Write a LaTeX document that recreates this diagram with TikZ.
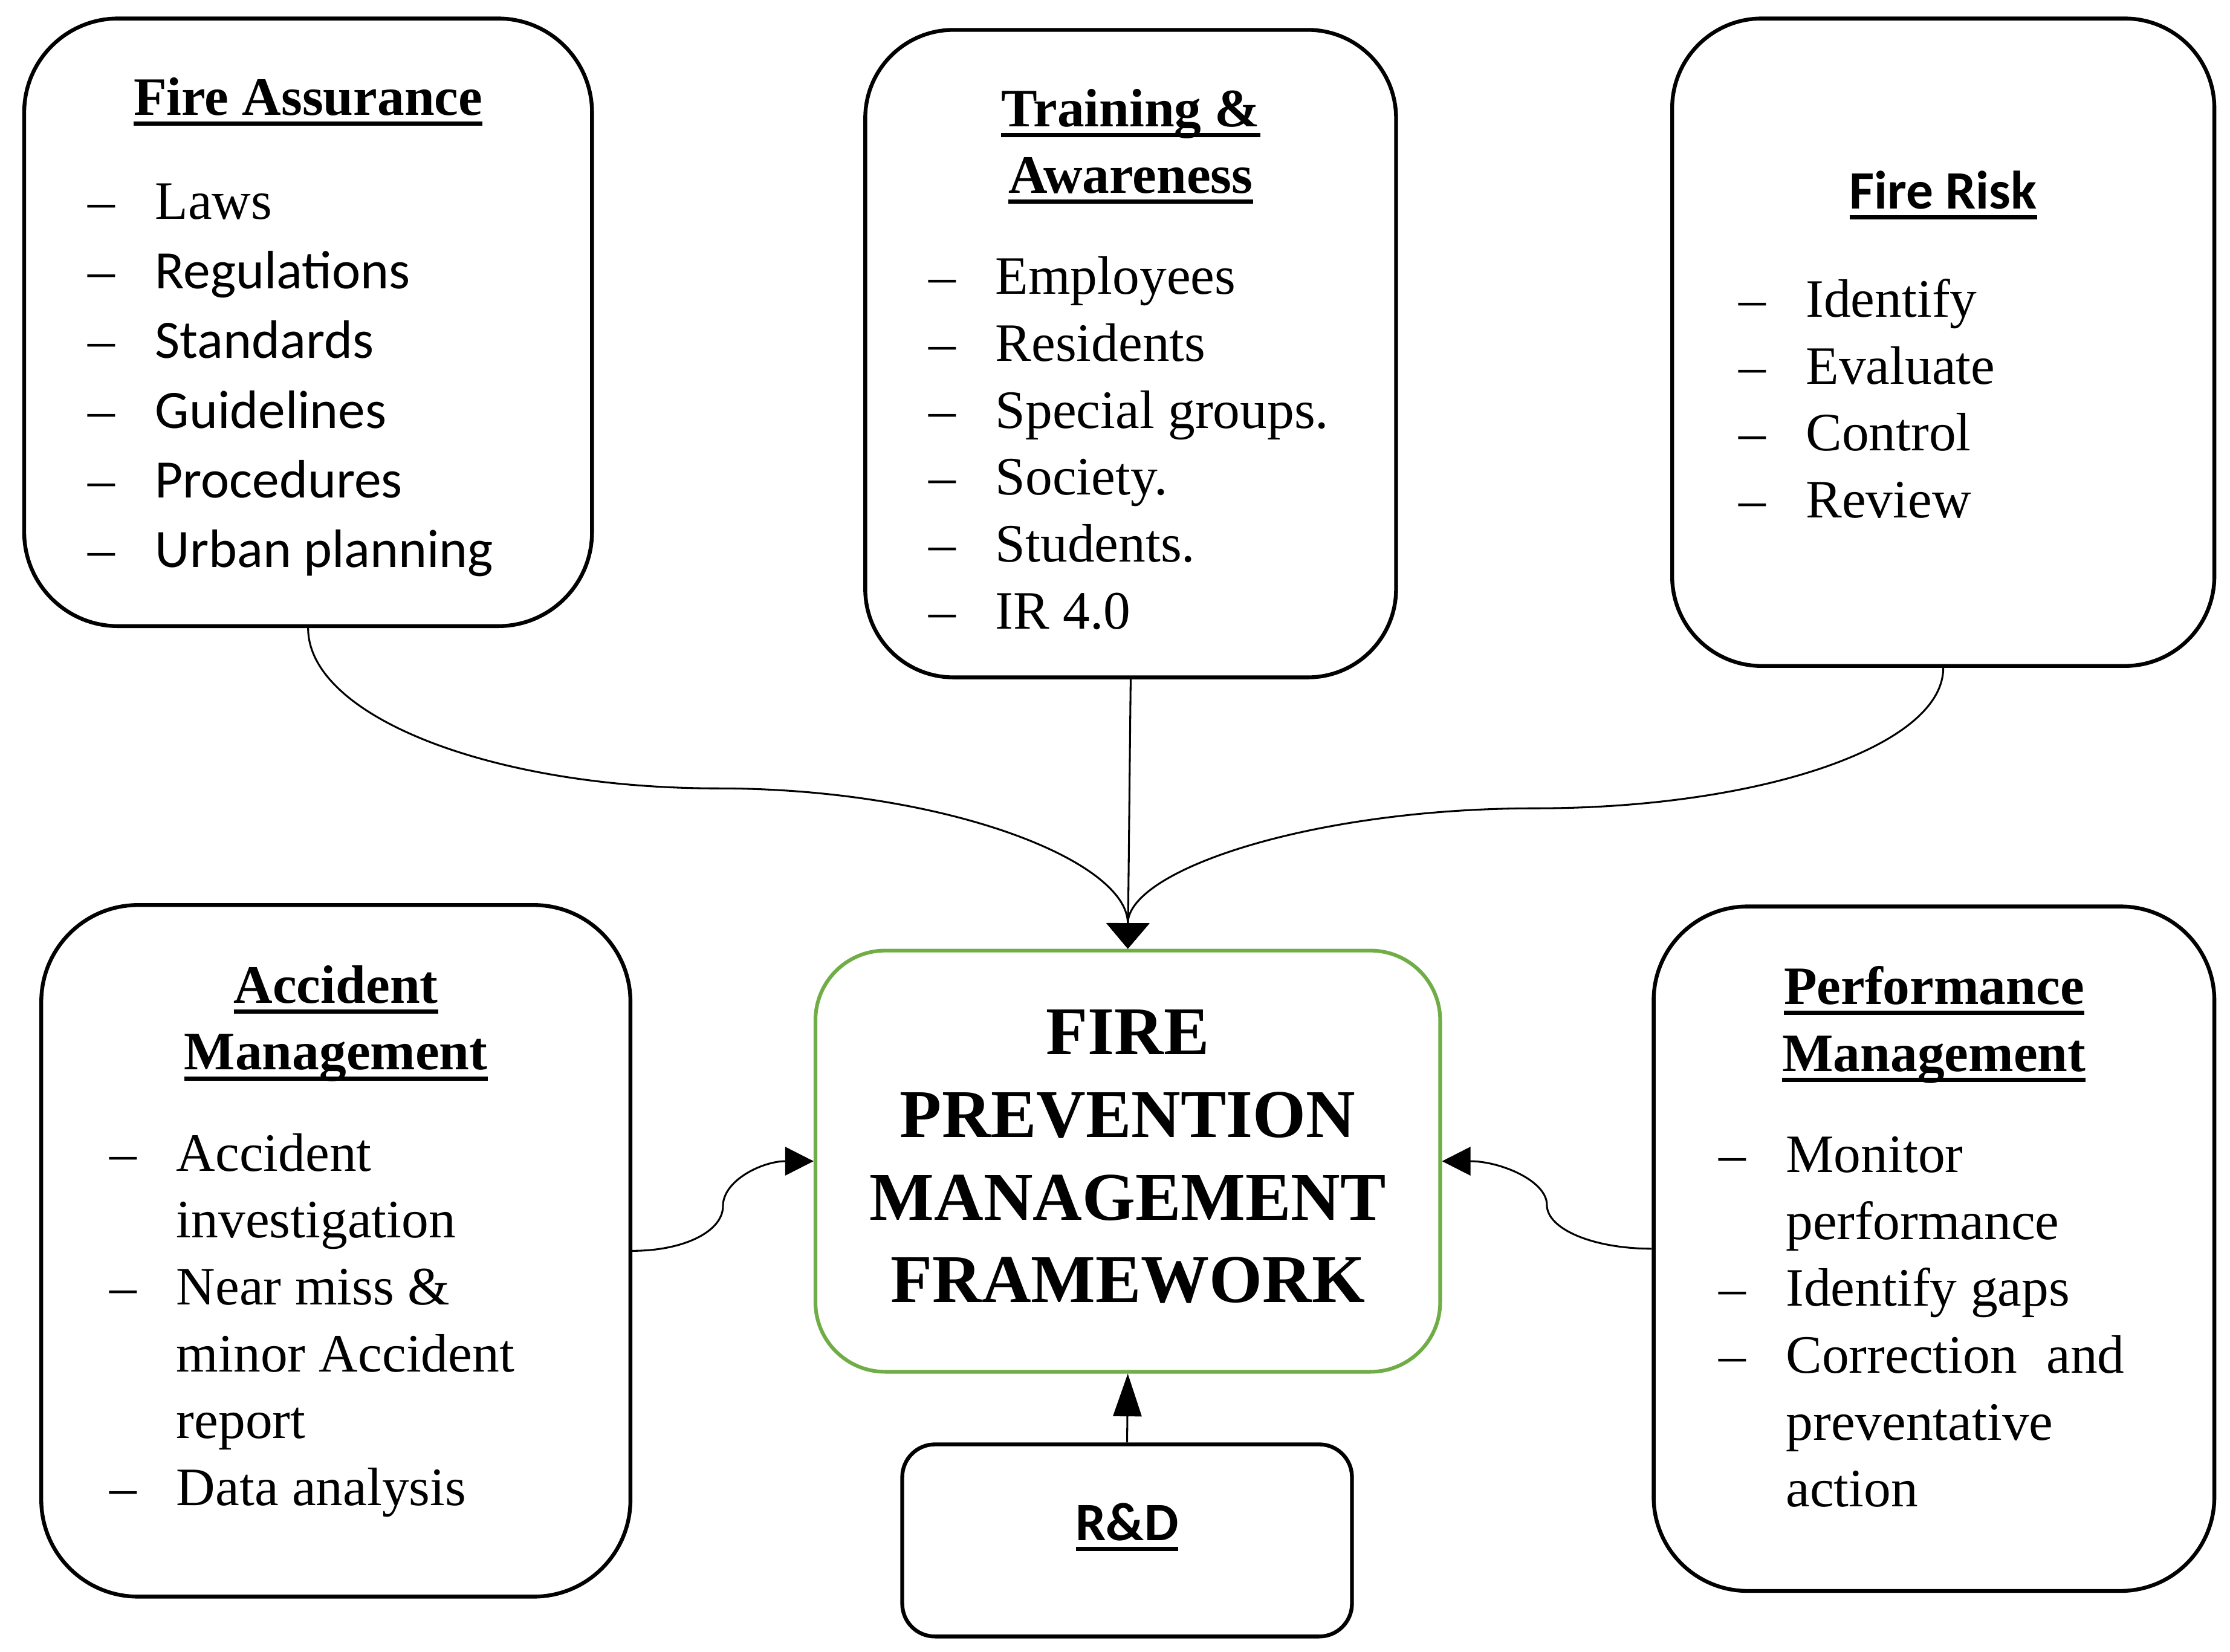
\documentclass[tikz,border=0pt]{standalone}
\usepackage{fontspec}
\setmainfont{Liberation Serif}
\newfontfamily\calibri{Carlito}
\usetikzlibrary{arrows.meta, positioning, calc}
\definecolor{okgreen}{RGB}{112,173,71}
\tikzstyle{panel} = [rectangle, rounded corners=64pt, draw=black, line width=2.7pt, inner sep=0pt]
\tikzstyle{core} = [rectangle, rounded corners=49pt, draw=okgreen, line width=2.6pt, align=center, inner sep=0pt, font=\bfseries\fontsize{48}{58}\selectfont]
\tikzstyle{txt} = [align=center, inner sep=0pt, font=\fontsize{38}{47}\selectfont]
\tikzstyle{arrow} = [line width=1.3pt, -{Triangle[length=20pt, width=20pt]}]
\tikzstyle{toparrow} = [line width=1.3pt, -{Triangle[length=18pt, width=30pt]}]

\newsavebox{\ttlbox}
\newcommand{\ttl}[1]{\sbox{\ttlbox}{\bfseries #1}\rlap{\rule[-7.5pt]{\wd\ttlbox}{3pt}}\usebox{\ttlbox}\rule{0pt}{30pt}}
\newcommand{\itm}[1]{\makebox[47pt][l]{\textendash}#1}
\newcommand{\cnt}[1]{\hspace*{47pt}#1}
\newcommand{\lst}[2]{\begin{tabular}[t]{@{}p{#1}@{}}#2\end{tabular}}

\begin{document}
\begin{tikzpicture}[x=1pt, y=1pt]
      \useasboundingbox (0,0) rectangle (1567,-1160.5);

      % frames
      \node (fa) [panel, rounded corners=66pt, minimum width=399pt, minimum height=427pt] at (216.5,-226.5) {};
      \node (ta) [panel, rounded corners=62pt, minimum width=373pt, minimum height=455pt] at (794.5,-248.5) {};
      \node (fr) [panel, rounded corners=63pt, minimum width=381pt, minimum height=455pt] at (1365.5,-240.5) {};
      \node (am) [panel, rounded corners=68pt, minimum width=414pt, minimum height=486pt] at (236,-879) {};
      \node (pm) [panel, rounded corners=66pt, minimum width=394pt, minimum height=481pt] at (1359,-877.5) {};

      \node (core) [core, minimum width=439pt, minimum height=296pt] at (792.5,-816) {FIRE\\PREVENTION\\MANAGEMENT\\FRAMEWORK\rule[-7pt]{0pt}{0pt}};
      \node (rd) [panel, rounded corners=23pt, minimum width=316pt, minimum height=135pt, text height=24pt, text depth=24pt, font=\calibri\fontsize{38}{47}\selectfont] at (792,-1082.5) {\ttl{R\&D}};

      % texts
      \node (fa_txt) [txt, font=\fontsize{38}{49}\selectfont, below=39pt of fa.north] {\ttl{Fire Assurance}\\[24pt]
        \lst{309pt}{\itm{Laws}\\ \itm{\calibri Regulations}\\ \itm{\calibri Standards}\\ \itm{\calibri Guidelines}\\ \itm{\calibri Procedures}\\ \itm{\calibri Urban planning}}};
      \node (ta_txt) [txt, below=39pt of ta.north] {\ttl{Training \&}\\\ttl{Awareness}\\[24pt]
        \lst{284pt}{\itm{Employees}\\ \itm{Residents}\\ \itm{Special groups.}\\ \itm{Society.}\\ \itm{Students.}\\ \itm{IR 4.0}}};
      \node (fr_txt) [txt, below=105pt of fr.north] {\ttl{\calibri Fire Risk}\\[29pt]
        \lst{287pt}{\itm{Identify}\\ \itm{Evaluate}\\ \itm{Control}\\ \itm{Review}}};
      \node (am_txt) [txt, below=40pt of am.north] {\ttl{Accident}\\\ttl{Management}\\[24pt]
        \lst{318pt}{\itm{Accident}\\ \cnt{investigation}\\ \itm{Near miss \&}\\ \cnt{minor Accident}\\ \cnt{report}\\ \itm{Data analysis}}};
      \node (pm_txt) [txt, below=40pt of pm.north] {\ttl{Performance}\\\ttl{Management}\\[24pt]
        \lst{302pt}{\itm{Monitor}\\ \cnt{performance}\\ \itm{Identify gaps}\\ \itm{Correction \hspace{11pt}and}\\ \cnt{preventative}\\ \cnt{action}}};

      % connectors
      \draw [toparrow] (fa.south) .. controls +(0,-62) and +(-159,0) .. ($(fa.south)!0.5!(core.north)$)
                                  .. controls +(159,0) and +(0,62) .. (core.north);
      \draw [toparrow] (ta.south) -- (core.north);
      \draw [toparrow] (fr.south) .. controls +(0,-55) and +(158,0) .. ($(fr.south)!0.5!(core.north)$)
                                  .. controls +(-158,0) and +(0,55) .. (core.north);
      \draw [arrow] (am.east) .. controls +(36,0) and +(0,-18) .. ($(am.east)!0.5!(core.west)$)
                              .. controls +(0,18) and +(-36,0) .. (core.west);
      \draw [arrow] (pm.west) .. controls +(-41,0) and +(0,-17) .. ($(pm.west)!0.5!(core.east)$)
                              .. controls +(0,17) and +(41,0) .. (core.east);
      \draw [arrow, -{Triangle[length=30pt, width=20pt]}] (rd.north) -- (core.south);
\end{tikzpicture}
\end{document}
